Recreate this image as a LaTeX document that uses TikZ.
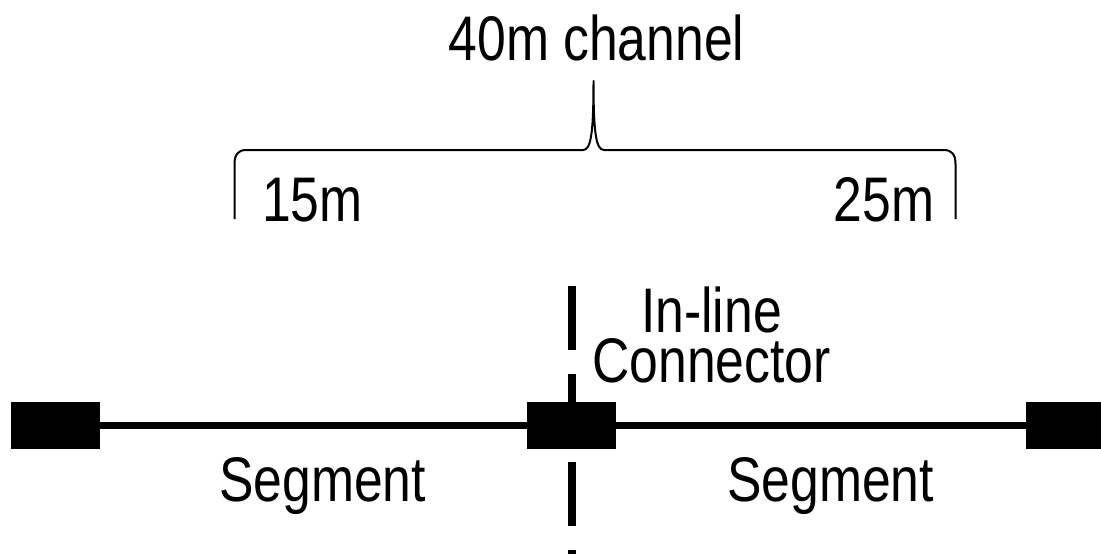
\documentclass[tikz,border=0pt]{standalone}
\usepackage{fontspec}
\setmainfont{Liberation Sans}[FakeStretch=0.82]
\begin{document}
\begin{tikzpicture}[x=1pt,y=-1pt,
  lbl/.style={font=\fontsize{63}{50}\selectfont, inner sep=0pt, outer sep=0pt},
  plug/.style={fill=black, draw=none, minimum width=89.3pt, minimum height=47.6pt, inner sep=0pt},
  cable/.style={line width=7pt},
  cut/.style={line width=8pt, dash pattern=on 64pt off 24pt},
  brace/.style={line width=2pt, line join=round}]
\useasboundingbox (0,0) rectangle (1101,554);

% channel length brace
\node[lbl, anchor=base] (title) at (596.5,60) {40m channel};
\draw[brace] (234.5,219) -- (234.5,164) .. controls (234.5,155) and (238,150) .. (246,150)
  -- (583,150) .. controls (591,150) and (593.5,133) .. (593.5,81)
  .. controls (593.5,133) and (596,150) .. (604,150)
  -- (944,150) .. controls (952,150) and (955.5,155) .. (955.5,164) -- (955.5,219);
\node[lbl, anchor=base] (l15) at (312.5,221) {15m};
\node[lbl, anchor=base] (l25) at (884,221) {25m};

% cut line through the in-line connector
\coordinate (cuttop) at (571.5,286);
\coordinate (cutbot) at (571.5,580);
\draw[cut] (cuttop) -- (cutbot);

% plugs and cable segments
\node[plug] (lplug) at (55.35,425.4) {};
\node[plug] (cplug) at (571.35,425.4) {};
\node[plug, anchor=west] (rplug) at (1025.7,425.4) {};
\draw[cable] (lplug) -- (cplug);
\draw[cable] (cplug) -- (rplug);

% labels (base anchor sits on the last line)
\node[lbl, align=center, anchor=base] (conn) at (711.5,382) {In-line\\Connector};
\node[lbl, anchor=base] (seg1) at (322.5,501) {Segment};
\node[lbl, anchor=base] (seg2) at (830.5,501) {Segment};
\end{tikzpicture}
\end{document}
